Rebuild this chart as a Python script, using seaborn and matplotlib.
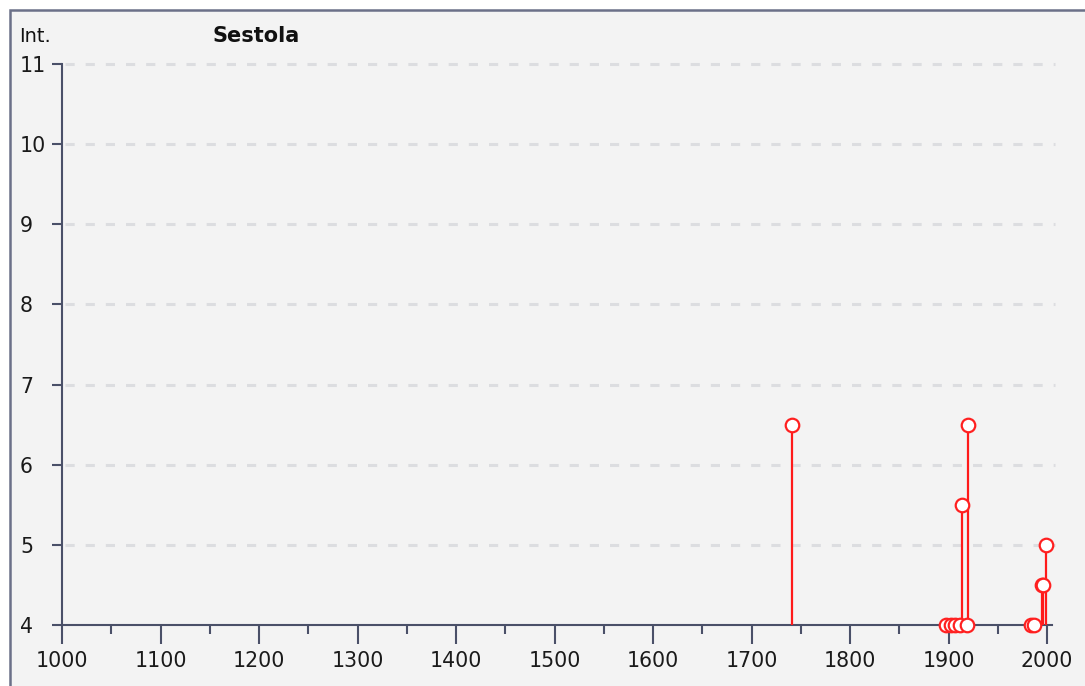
import numpy as np
import pandas as pd
import seaborn as sns
import matplotlib.pyplot as plt
from matplotlib.patches import Rectangle
from matplotlib.ticker import MultipleLocator

# =========================
# Data
# =========================

years = [1741, 1897, 1902, 1907, 1912, 1914, 1919, 1920, 1984, 1987, 1995, 1996, 1999]
intensity = [6.5, 4.0, 4.0, 4.0, 4.0, 5.5, 4.0, 6.5, 4.0, 4.0, 4.5, 4.5, 5.0]

x_ticks = [1000, 1100, 1200, 1300, 1400, 1500, 1600, 1700, 1800, 1900, 2000]
y_ticks = [4, 5, 6, 7, 8, 9, 10, 11]

df = pd.DataFrame({"year": years, "int": intensity})

# =========================
# Figure
# =========================

sns.set_style("white")
plt.rcParams["font.family"] = ["DejaVu Sans"]

W, H = 1085, 686
fig = plt.figure(figsize=(W / 100, H / 100), dpi=100)
fig.patch.set_facecolor("white")

# panel background with frame
fig.patches.append(Rectangle((10 / W, -0.1), 1, 1.1 - 10 / H, transform=fig.transFigure,
                             facecolor="#f3f3f3", edgecolor="#6b7088", linewidth=1.8, zorder=-10))

ax = fig.add_axes([62 / W, (H - 625) / H, (1052 - 62) / W, (625 - 64) / H])
ax.set_facecolor("none")
ax.set_zorder(5)

# dashed grid
for v in y_ticks[1:]:
    ax.plot([1003, 2008], [v, v], color="#dcdde0", linewidth=2.2,
            dashes=(3, 3.6), zorder=1, clip_on=False)

# stems
ax.vlines(df["year"], 4, df["int"], color="#ff1a1a", linewidth=1.6, zorder=3)

sns.scatterplot(data=df, x="year", y="int", ax=ax, marker="o", s=95,
                facecolor="white", edgecolor="#ff2020", linewidth=1.6,
                zorder=4, clip_on=False, legend=False)

ax.set_xlim(1000, 2005)
ax.set_ylim(4, 11)
ax.set_xticks(x_ticks)
ax.xaxis.set_minor_locator(MultipleLocator(50))
ax.set_yticks(y_ticks)
ax.set_xlabel("")
ax.set_ylabel("")

axis_col = "#4a5068"
for s in ["top", "right"]:
    ax.spines[s].set_visible(False)
for s in ["left", "bottom"]:
    ax.spines[s].set_color(axis_col)
    ax.spines[s].set_linewidth(1.5)
    ax.spines[s].set_zorder(2)

ax.tick_params(axis="x", which="major", bottom=True, direction="out", length=13.5, width=1.5,
               color=axis_col, labelsize=14.8, pad=5, labelcolor="#1a1a1a")
ax.tick_params(axis="x", which="minor", bottom=True, direction="out", length=6.5, width=1.5,
               color=axis_col)
ax.tick_params(axis="y", which="major", left=True, direction="out", length=7.2, width=1.5,
               color=axis_col, labelsize=14.8, pad=23, labelcolor="#1a1a1a")
for lab in ax.get_yticklabels():
    lab.set_horizontalalignment("left")

fig.text(19 / W, 1 - 42 / H, "Int.", fontsize=14, va="baseline", ha="left", color="#111111")
fig.text(213 / W, 1 - 42 / H, "Sestola", fontsize=15, fontweight="bold",
         va="baseline", ha="left", color="#111111")

fig.savefig("out.png", dpi=100)
